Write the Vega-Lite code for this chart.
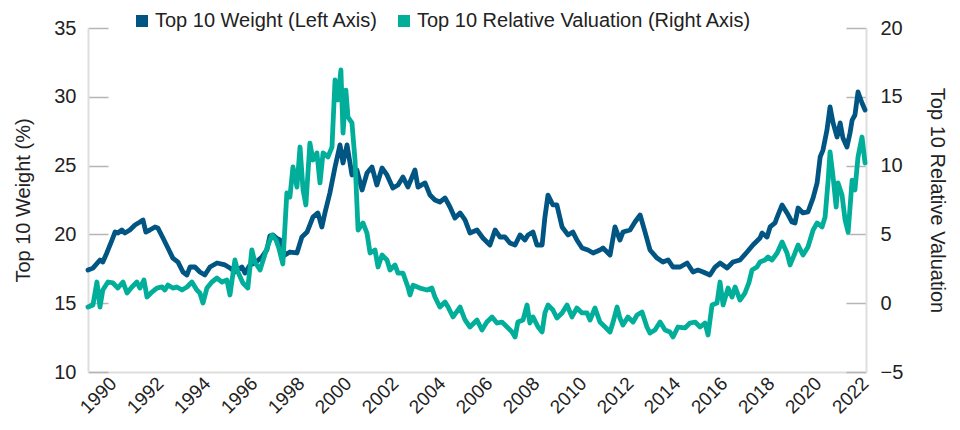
{
  "$schema": "https://vega.github.io/schema/vega-lite/v6.json",
  "width": 778,
  "height": 344,
  "autosize": {"type": "none"},
  "padding": {"left": 88, "top": 28, "right": 94, "bottom": 58},
  "background": "white",
  "config": {"font": "Liberation Sans", "view": {"stroke": null}},
  "datasets": {
    "weight": [
      {"year": 1988.94, "value": 17.41}, {"year": 1989.15, "value": 17.55}, {"year": 1989.45, "value": 18.14}, {"year": 1989.57, "value": 17.99},
      {"year": 1989.74, "value": 18.65}, {"year": 1989.96, "value": 19.59}, {"year": 1990.09, "value": 20.17}, {"year": 1990.21, "value": 20.1},
      {"year": 1990.38, "value": 20.32}, {"year": 1990.51, "value": 20.1}, {"year": 1990.72, "value": 20.32}, {"year": 1990.94, "value": 20.68},
      {"year": 1991.15, "value": 20.9}, {"year": 1991.28, "value": 21.05}, {"year": 1991.4, "value": 20.17}, {"year": 1991.57, "value": 20.32},
      {"year": 1991.79, "value": 20.54}, {"year": 1991.91, "value": 20.47}, {"year": 1992.13, "value": 19.74}, {"year": 1992.34, "value": 19.01},
      {"year": 1992.55, "value": 18.28}, {"year": 1992.77, "value": 17.99}, {"year": 1992.98, "value": 17.27}, {"year": 1993.15, "value": 17.05},
      {"year": 1993.28, "value": 17.63}, {"year": 1993.49, "value": 17.63}, {"year": 1993.7, "value": 17.27}, {"year": 1993.91, "value": 17.05},
      {"year": 1994.13, "value": 17.63}, {"year": 1994.43, "value": 17.92}, {"year": 1994.77, "value": 17.78}, {"year": 1994.98, "value": 17.56},
      {"year": 1995.19, "value": 17.27}, {"year": 1995.49, "value": 17.63}, {"year": 1995.62, "value": 17.19}, {"year": 1995.83, "value": 17.78},
      {"year": 1996.04, "value": 17.92}, {"year": 1996.34, "value": 18.36}, {"year": 1996.55, "value": 18.87}, {"year": 1996.68, "value": 19.9},
      {"year": 1996.81, "value": 19.96}, {"year": 1996.98, "value": 19.7}, {"year": 1997.11, "value": 19.6}, {"year": 1997.32, "value": 18.5},
      {"year": 1997.53, "value": 18.72}, {"year": 1997.83, "value": 18.65}, {"year": 1998.04, "value": 19.81}, {"year": 1998.26, "value": 20.17},
      {"year": 1998.51, "value": 21.26}, {"year": 1998.72, "value": 21.56}, {"year": 1998.89, "value": 20.54}, {"year": 1999.02, "value": 21.56},
      {"year": 1999.23, "value": 23.01}, {"year": 1999.45, "value": 24.9}, {"year": 1999.66, "value": 26.5}, {"year": 1999.79, "value": 25.19},
      {"year": 1999.96, "value": 26.5}, {"year": 2000.17, "value": 24.32}, {"year": 2000.38, "value": 24.68}, {"year": 2000.6, "value": 23.23},
      {"year": 2000.81, "value": 24.46}, {"year": 2001.02, "value": 24.9}, {"year": 2001.23, "value": 23.59}, {"year": 2001.45, "value": 24.83},
      {"year": 2001.66, "value": 24.32}, {"year": 2001.91, "value": 23.37}, {"year": 2002.13, "value": 23.59}, {"year": 2002.34, "value": 24.17},
      {"year": 2002.55, "value": 23.44}, {"year": 2002.85, "value": 24.68}, {"year": 2002.98, "value": 23.44}, {"year": 2003.28, "value": 23.74},
      {"year": 2003.49, "value": 22.86}, {"year": 2003.7, "value": 22.5}, {"year": 2003.91, "value": 22.35}, {"year": 2004.13, "value": 22.65},
      {"year": 2004.34, "value": 21.99}, {"year": 2004.55, "value": 21.19}, {"year": 2004.77, "value": 21.56}, {"year": 2004.98, "value": 21.05},
      {"year": 2005.19, "value": 20.1}, {"year": 2005.49, "value": 20.32}, {"year": 2005.74, "value": 19.74}, {"year": 2006.04, "value": 19.23},
      {"year": 2006.26, "value": 20.32}, {"year": 2006.47, "value": 19.81}, {"year": 2006.68, "value": 19.81}, {"year": 2006.89, "value": 19.38},
      {"year": 2007.11, "value": 19.23}, {"year": 2007.32, "value": 19.96}, {"year": 2007.53, "value": 19.59}, {"year": 2007.66, "value": 19.96},
      {"year": 2007.87, "value": 20.17}, {"year": 2008.04, "value": 19.23}, {"year": 2008.26, "value": 19.23}, {"year": 2008.38, "value": 21.26},
      {"year": 2008.51, "value": 22.86}, {"year": 2008.72, "value": 22.14}, {"year": 2008.89, "value": 22.14}, {"year": 2009.11, "value": 20.54},
      {"year": 2009.36, "value": 19.96}, {"year": 2009.57, "value": 20.17}, {"year": 2009.74, "value": 19.59}, {"year": 2009.96, "value": 19.01},
      {"year": 2010.21, "value": 18.87}, {"year": 2010.43, "value": 18.65}, {"year": 2010.72, "value": 18.87}, {"year": 2010.85, "value": 19.01},
      {"year": 2011.15, "value": 18.5}, {"year": 2011.36, "value": 20.54}, {"year": 2011.57, "value": 19.59}, {"year": 2011.7, "value": 20.17},
      {"year": 2012.0, "value": 20.32}, {"year": 2012.21, "value": 20.9}, {"year": 2012.43, "value": 21.41}, {"year": 2012.64, "value": 20.17},
      {"year": 2012.85, "value": 18.87}, {"year": 2013.15, "value": 18.28}, {"year": 2013.4, "value": 17.99}, {"year": 2013.62, "value": 18.14},
      {"year": 2013.83, "value": 17.63}, {"year": 2014.13, "value": 17.63}, {"year": 2014.43, "value": 17.92}, {"year": 2014.68, "value": 17.27},
      {"year": 2014.89, "value": 17.41}, {"year": 2015.11, "value": 17.27}, {"year": 2015.4, "value": 17.05}, {"year": 2015.62, "value": 17.63},
      {"year": 2015.83, "value": 17.92}, {"year": 2016.13, "value": 17.56}, {"year": 2016.38, "value": 17.99}, {"year": 2016.68, "value": 18.14},
      {"year": 2016.98, "value": 18.72}, {"year": 2017.23, "value": 19.23}, {"year": 2017.53, "value": 19.74}, {"year": 2017.62, "value": 20.1},
      {"year": 2017.83, "value": 19.81}, {"year": 2017.96, "value": 20.54}, {"year": 2018.17, "value": 20.83}, {"year": 2018.26, "value": 21.26},
      {"year": 2018.47, "value": 22.14}, {"year": 2018.68, "value": 21.56}, {"year": 2018.89, "value": 20.9}, {"year": 2019.02, "value": 20.83},
      {"year": 2019.15, "value": 21.92}, {"year": 2019.36, "value": 21.56}, {"year": 2019.57, "value": 21.63}, {"year": 2019.79, "value": 22.65},
      {"year": 2019.96, "value": 23.74}, {"year": 2020.09, "value": 25.63}, {"year": 2020.21, "value": 26.13}, {"year": 2020.38, "value": 27.59},
      {"year": 2020.51, "value": 29.26}, {"year": 2020.64, "value": 28.1}, {"year": 2020.81, "value": 27.08}, {"year": 2020.94, "value": 28.1},
      {"year": 2021.06, "value": 27.0}, {"year": 2021.23, "value": 26.35}, {"year": 2021.36, "value": 27.37}, {"year": 2021.45, "value": 28.31},
      {"year": 2021.57, "value": 28.68}, {"year": 2021.7, "value": 30.35}, {"year": 2021.87, "value": 29.55}, {"year": 2022.0, "value": 29.04}
    ],
    "valuation": [
      {"year": 1988.94, "value": -0.28}, {"year": 1989.15, "value": -0.13}, {"year": 1989.32, "value": 1.54}, {"year": 1989.45, "value": -0.28},
      {"year": 1989.57, "value": 0.96}, {"year": 1989.79, "value": 1.54}, {"year": 1990.0, "value": 1.47}, {"year": 1990.21, "value": 1.1},
      {"year": 1990.43, "value": 1.54}, {"year": 1990.6, "value": 0.74}, {"year": 1990.81, "value": 1.18}, {"year": 1991.02, "value": 1.54},
      {"year": 1991.15, "value": 1.1}, {"year": 1991.32, "value": 1.69}, {"year": 1991.45, "value": 0.45}, {"year": 1991.66, "value": 0.81},
      {"year": 1991.87, "value": 1.1}, {"year": 1992.09, "value": 1.18}, {"year": 1992.21, "value": 0.96}, {"year": 1992.34, "value": 1.32},
      {"year": 1992.55, "value": 1.1}, {"year": 1992.72, "value": 1.18}, {"year": 1992.94, "value": 0.96}, {"year": 1993.15, "value": 1.18},
      {"year": 1993.36, "value": 1.54}, {"year": 1993.57, "value": 0.96}, {"year": 1993.7, "value": 0.74}, {"year": 1993.83, "value": 0.01},
      {"year": 1994.0, "value": 1.1}, {"year": 1994.21, "value": 1.54}, {"year": 1994.43, "value": 1.83}, {"year": 1994.64, "value": 1.54},
      {"year": 1994.85, "value": 1.69}, {"year": 1994.98, "value": 0.6}, {"year": 1995.19, "value": 3.14}, {"year": 1995.32, "value": 2.27},
      {"year": 1995.53, "value": 1.47}, {"year": 1995.74, "value": 1.1}, {"year": 1995.91, "value": 3.87}, {"year": 1996.04, "value": 2.99},
      {"year": 1996.26, "value": 2.41}, {"year": 1996.55, "value": 4.0}, {"year": 1996.77, "value": 4.96}, {"year": 1996.94, "value": 4.6},
      {"year": 1997.06, "value": 4.0}, {"year": 1997.23, "value": 2.85}, {"year": 1997.4, "value": 8.01}, {"year": 1997.53, "value": 7.72},
      {"year": 1997.66, "value": 9.9}, {"year": 1997.83, "value": 8.44}, {"year": 1997.96, "value": 11.35}, {"year": 1998.09, "value": 8.23},
      {"year": 1998.21, "value": 7.14}, {"year": 1998.38, "value": 11.64}, {"year": 1998.51, "value": 10.41}, {"year": 1998.68, "value": 10.92},
      {"year": 1998.81, "value": 8.74}, {"year": 1998.94, "value": 10.92}, {"year": 1999.15, "value": 10.63}, {"year": 1999.32, "value": 11.35},
      {"year": 1999.45, "value": 16.22}, {"year": 1999.57, "value": 14.77}, {"year": 1999.7, "value": 16.95}, {"year": 1999.79, "value": 12.37},
      {"year": 1999.91, "value": 15.49}, {"year": 2000.0, "value": 13.53}, {"year": 2000.17, "value": 13.1}, {"year": 2000.3, "value": 10.41},
      {"year": 2000.43, "value": 5.32}, {"year": 2000.64, "value": 5.83}, {"year": 2000.81, "value": 5.1}, {"year": 2000.94, "value": 3.65},
      {"year": 2001.15, "value": 3.87}, {"year": 2001.28, "value": 2.63}, {"year": 2001.45, "value": 3.5}, {"year": 2001.66, "value": 3.14},
      {"year": 2001.79, "value": 2.41}, {"year": 2002.0, "value": 2.78}, {"year": 2002.13, "value": 2.19}, {"year": 2002.34, "value": 2.19},
      {"year": 2002.55, "value": 1.18}, {"year": 2002.64, "value": 0.6}, {"year": 2002.77, "value": 1.3}, {"year": 2003.06, "value": 1.1},
      {"year": 2003.36, "value": 0.96}, {"year": 2003.57, "value": 1.1}, {"year": 2003.7, "value": 0.45}, {"year": 2003.91, "value": -0.28},
      {"year": 2004.13, "value": 0.09}, {"year": 2004.26, "value": -0.28}, {"year": 2004.47, "value": -1.0}, {"year": 2004.77, "value": -0.28},
      {"year": 2004.98, "value": -1.22}, {"year": 2005.19, "value": -1.73}, {"year": 2005.49, "value": -1.22}, {"year": 2005.7, "value": -1.95},
      {"year": 2005.91, "value": -1.37}, {"year": 2006.13, "value": -1.0}, {"year": 2006.34, "value": -1.44}, {"year": 2006.55, "value": -1.37},
      {"year": 2006.77, "value": -1.73}, {"year": 2006.98, "value": -2.09}, {"year": 2007.11, "value": -2.46}, {"year": 2007.23, "value": -1.37},
      {"year": 2007.45, "value": -1.22}, {"year": 2007.62, "value": -0.13}, {"year": 2007.74, "value": -1.44}, {"year": 2007.87, "value": -1.0},
      {"year": 2008.09, "value": -1.73}, {"year": 2008.26, "value": -2.09}, {"year": 2008.38, "value": -0.71}, {"year": 2008.51, "value": -0.13},
      {"year": 2008.72, "value": -0.49}, {"year": 2008.89, "value": -1.08}, {"year": 2009.11, "value": -0.71}, {"year": 2009.32, "value": -0.13},
      {"year": 2009.53, "value": -1.0}, {"year": 2009.74, "value": -0.35}, {"year": 2009.96, "value": -0.71}, {"year": 2010.17, "value": -0.71},
      {"year": 2010.3, "value": -1.22}, {"year": 2010.51, "value": -0.35}, {"year": 2010.72, "value": -1.37}, {"year": 2010.94, "value": -1.73},
      {"year": 2011.15, "value": -2.09}, {"year": 2011.28, "value": -1.37}, {"year": 2011.45, "value": -0.28}, {"year": 2011.57, "value": -1.08},
      {"year": 2011.7, "value": -1.58}, {"year": 2011.91, "value": -1.0}, {"year": 2012.13, "value": -1.37}, {"year": 2012.3, "value": -0.86},
      {"year": 2012.51, "value": -0.64}, {"year": 2012.72, "value": -1.73}, {"year": 2012.85, "value": -2.17}, {"year": 2013.06, "value": -1.95},
      {"year": 2013.28, "value": -1.37}, {"year": 2013.49, "value": -1.95}, {"year": 2013.7, "value": -2.09}, {"year": 2013.83, "value": -2.46},
      {"year": 2014.04, "value": -1.73}, {"year": 2014.34, "value": -1.8}, {"year": 2014.55, "value": -1.44}, {"year": 2014.77, "value": -1.37},
      {"year": 2014.98, "value": -1.73}, {"year": 2015.19, "value": -1.44}, {"year": 2015.32, "value": -2.31}, {"year": 2015.49, "value": -0.13},
      {"year": 2015.7, "value": 0.01}, {"year": 2015.83, "value": 1.54}, {"year": 2015.96, "value": -0.13}, {"year": 2016.17, "value": 1.1},
      {"year": 2016.34, "value": 0.45}, {"year": 2016.47, "value": 1.18}, {"year": 2016.68, "value": 0.23}, {"year": 2016.89, "value": 0.74},
      {"year": 2017.06, "value": 1.5}, {"year": 2017.19, "value": 2.41}, {"year": 2017.4, "value": 2.63}, {"year": 2017.53, "value": 2.99},
      {"year": 2017.74, "value": 3.14}, {"year": 2017.87, "value": 3.36}, {"year": 2018.04, "value": 3.14}, {"year": 2018.26, "value": 3.65},
      {"year": 2018.47, "value": 4.45}, {"year": 2018.68, "value": 3.65}, {"year": 2018.81, "value": 2.78}, {"year": 2019.02, "value": 3.65},
      {"year": 2019.15, "value": 4.23}, {"year": 2019.36, "value": 3.5}, {"year": 2019.57, "value": 4.08}, {"year": 2019.79, "value": 5.32},
      {"year": 2019.96, "value": 5.83}, {"year": 2020.17, "value": 5.54}, {"year": 2020.3, "value": 6.26}, {"year": 2020.43, "value": 8.95},
      {"year": 2020.51, "value": 11.0}, {"year": 2020.64, "value": 9.17}, {"year": 2020.77, "value": 6.99}, {"year": 2020.85, "value": 8.74},
      {"year": 2021.02, "value": 7.86}, {"year": 2021.15, "value": 6.05}, {"year": 2021.28, "value": 5.17}, {"year": 2021.45, "value": 8.95},
      {"year": 2021.57, "value": 8.23}, {"year": 2021.7, "value": 10.63}, {"year": 2021.87, "value": 12.08}, {"year": 2022.0, "value": 10.19}
    ]
  },
  "layer": [
    {
      "data": {"name": "weight"},
      "mark": {"type": "line", "strokeWidth": 4.8, "strokeJoin": "round", "strokeCap": "round"},
      "encoding": {
        "x": {
          "field": "year", "type": "quantitative",
          "scale": {"domain": [1988.94, 2022.04], "nice": false, "zero": false},
          "axis": {
            "values": [1990, 1992, 1994, 1996, 1998, 2000, 2002, 2004, 2006, 2008, 2010, 2012, 2014, 2016, 2018, 2020, 2022],
            "format": "d", "labelAngle": -45, "labelAlign": "right", "labelBaseline": "middle",
            "labelFontSize": 19, "labelColor": "#222",
            "ticks": false, "grid": false, "domainColor": "#dedede", "domainWidth": 2,
            "title": null, "labelPadding": 8, "labelFlush": false, "labelOverlap": false
          }
        },
        "y": {
          "field": "value", "type": "quantitative",
          "scale": {"domain": [10, 35], "nice": false, "zero": false},
          "axis": {
            "orient": "left", "values": [10, 15, 20, 25, 30, 35], "grid": false,
            "tickSize": -20, "tickColor": "#b5b5b5", "tickWidth": 1.5,
            "domainColor": "#dedede", "domainWidth": 2,
            "labelFontSize": 20, "labelColor": "#222", "labelPadding": 32,
            "title": "Top 10 Weight (%)", "titleFontSize": 20, "titleFontWeight": "normal",
            "titleColor": "#222", "titlePadding": 20
          }
        },
        "color": {
          "datum": "Top 10 Weight (Left Axis)",
          "scale": {
            "domain": ["Top 10 Weight (Left Axis)", "Top 10 Relative Valuation (Right Axis)"],
            "range": ["#005583", "#00ae9a"]
          },
          "legend": {
            "orient": "none", "legendX": 44, "legendY": -17, "direction": "horizontal", "padding": 0,
            "title": null, "symbolType": "square", "symbolSize": 144, "labelFontSize": 20, "labelLimit": 0,
            "labelColor": "#222", "columnPadding": 15, "labelOffset": 3,
            "encode": {"symbols": {"update": {"fill": {"scale": "color", "field": "value"}, "fillOpacity": {"value": 1}, "strokeWidth": {"value": 0}}}}
          }
        }
      }
    },
    {
      "data": {"name": "valuation"},
      "mark": {"type": "line", "strokeWidth": 4.8, "strokeJoin": "round", "strokeCap": "round"},
      "encoding": {
        "x": {"field": "year", "type": "quantitative"},
        "y": {
          "field": "value", "type": "quantitative",
          "scale": {"domain": [-5, 20], "nice": false, "zero": false},
          "axis": {
            "orient": "right", "values": [-5, 0, 5, 10, 15, 20], "grid": false,
            "tickSize": -20, "tickColor": "#b5b5b5", "tickWidth": 1.5,
            "domainColor": "#dedede", "domainWidth": 2,
            "labelFontSize": 20, "labelColor": "#222", "labelPadding": 34,
            "title": "Top 10  Relative Valuation", "titleFontSize": 20, "titleFontWeight": "normal",
            "titleColor": "#222", "titlePadding": 24
          }
        },
        "color": {"datum": "Top 10 Relative Valuation (Right Axis)"}
      }
    }
  ],
  "resolve": {"scale": {"y": "independent"}}
}
